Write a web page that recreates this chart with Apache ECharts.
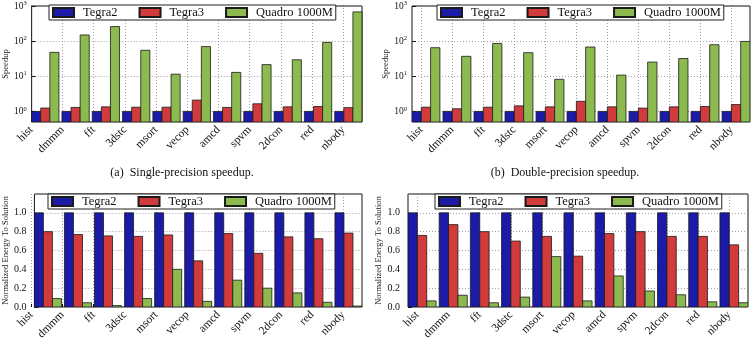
<!DOCTYPE html>
<html>
<head>
<meta charset="utf-8">
<script src="https://cdn.jsdelivr.net/npm/echarts@6/dist/echarts.min.js"></script>
<style>
  html, body { margin: 0; padding: 0; background: #fff; }
  #wrap { position: relative; width: 755px; height: 355px; }
  #axes, #bars { position: absolute; left: 0; top: 0; width: 755px; height: 355px; }
</style>
</head>
<body>
<div id="wrap">
  <div id="axes"></div>
  <div id="bars"></div>
</div>
<script>
// benchmarks on the x axis
const categories = ['hist', 'dmmm', 'fft', '3dstc', 'msort', 'vecop', 'amcd', 'spvm', '2dcon', 'red', 'nbody'];
const chips = ['Tegra2', 'Tegra3', 'Quadro 1000M'];
const chipColors = ['#1b1ba8', '#d23b3c', '#8cba4f'];

// (a) single-precision speedup (log scale)
const spSingleTegra2 = [1, 1, 1, 1, 1, 1, 1, 1, 1, 1, 1];
const spSingleTegra3 = [1.25, 1.3, 1.35, 1.32, 1.32, 2.1, 1.3, 1.65, 1.35, 1.38, 1.28];
const spSingleQuadro = [48, 150, 260, 55, 11.5, 70, 12.9, 21.5, 29.5, 92, 680];

// (b) double-precision speedup (log scale)
const spDoubleTegra2 = [1, 1, 1, 1, 1, 1, 1, 1, 1, 1, 1];
const spDoubleTegra3 = [1.32, 1.19, 1.32, 1.44, 1.35, 1.94, 1.35, 1.24, 1.35, 1.38, 1.57];
const spDoubleQuadro = [65, 37, 86, 47, 8.2, 68, 10.8, 25.4, 32, 79, 98];

// normalized energy to solution, single precision
const enSingleTegra2 = [1, 1, 1, 1, 1, 1, 1, 1, 1, 1, 1];
const enSingleTegra3 = [0.80, 0.77, 0.755, 0.75, 0.765, 0.49, 0.78, 0.57, 0.745, 0.725, 0.785];
const enSingleQuadro = [0.09, 0.045, 0.015, 0.09, 0.40, 0.06, 0.285, 0.20, 0.15, 0.05, 0.01];

// normalized energy to solution, double precision
const enDoubleTegra2 = [1, 1, 1, 1, 1, 1, 1, 1, 1, 1, 1];
const enDoubleTegra3 = [0.76, 0.875, 0.80, 0.70, 0.75, 0.54, 0.78, 0.80, 0.75, 0.75, 0.66];
const enDoubleQuadro = [0.065, 0.125, 0.045, 0.105, 0.535, 0.065, 0.33, 0.17, 0.13, 0.055, 0.045];

const captions = ['(a)  Single-precision speedup.', '(b)  Double-precision speedup.'];

const FONT = '"Liberation Serif", "DejaVu Serif", serif';
const BAR_W = 0.3;     // one bar = 0.3 x units, 3 bars per benchmark
const X_MAX = 10.9;
const LOG_MIN = 0.5;   // bottom of the speedup plots
const LOG_MAX = 1000;

const panels = [
  { box: [22, 5, 340, 117], log: true, name: 'Speedup', nameGap: 17, legendLeft: 49,
    data: [spSingleTegra2, spSingleTegra3, spSingleQuadro] },
  { box: [412, 5, 338, 117], log: true, name: 'Speedup', nameGap: 20, legendLeft: 437,
    data: [spDoubleTegra2, spDoubleTegra3, spDoubleQuadro] },
  { box: [22, 194, 340, 113], log: false, name: 'Normalized Energy To Solution', nameGap: 17, legendLeft: 48,
    data: [enSingleTegra2, enSingleTegra3, enSingleQuadro] },
  { box: [408, 194, 340, 113], log: false, name: 'Normalized Energy To Solution', nameGap: 19, legendLeft: 435,
    data: [enDoubleTegra2, enDoubleTegra3, enDoubleQuadro] }
];

// ---- bottom layer: benchmark labels + vertical dotted grid (ticks at i + 0.3)
const catGrid = [], catX = [], catY = [];
panels.forEach(function (p, n) {
  const [left, top, width, height] = p.box;
  const u = width / X_MAX;
  catGrid.push({ left: left + BAR_W * u, top: top, width: 10 * u, height: height, show: false });
  catX.push({
    gridIndex: n, type: 'category', data: categories, boundaryGap: false,
    axisLine: { show: false },
    axisTick: { inside: true, length: 3, lineStyle: { color: '#111' } },
    axisLabel: { rotate: 45, margin: 6, fontFamily: FONT, fontSize: 11.5, color: '#111', interval: 0 },
    splitLine: { show: true, lineStyle: { color: '#888', type: [1, 2], width: 0.8 } }
  });
  catY.push({ gridIndex: n, type: 'value', min: 0, max: 1, show: false });
});

const axesChart = echarts.init(document.getElementById('axes'));
axesChart.setOption({
  animation: false,
  backgroundColor: '#fff',
  grid: catGrid,
  xAxis: catX,
  yAxis: catY,
  series: []
});

// ---- top layer: frames, y axes, bars, legends, captions
const grid = [], xAxis = [], yAxis = [], series = [], legend = [];

panels.forEach(function (p, n) {
  const [left, top, width, height] = p.box;
  grid.push({ left: left, top: top, width: width, height: height, show: true,
    borderColor: '#111', borderWidth: 1, backgroundColor: 'transparent' });
  xAxis.push({ gridIndex: n, type: 'value', min: 0, max: X_MAX, show: false });

  const y = {
    gridIndex: n, type: 'value',
    name: p.name, nameLocation: 'middle', nameGap: p.nameGap,
    nameTextStyle: { fontFamily: FONT, fontSize: 8.5, color: '#222' },
    axisLine: { show: false },
    axisTick: { inside: true, length: 4, lineStyle: { color: '#111' } },
    splitLine: { show: true, lineStyle: { color: '#888', type: [1, 2], width: 0.8 } }
  };
  if (p.log) {
    // decades on a value axis (log10 of the speedup)
    Object.assign(y, {
      min: Math.log10(LOG_MIN), max: Math.log10(LOG_MAX), minInterval: 1, maxInterval: 1,
      axisLabel: {
        showMinLabel: false, margin: 5,
        formatter: function (v) { return '{b|10}{s|' + Math.round(v) + '}'; },
        rich: {
          b: { fontFamily: FONT, fontSize: 9.5, color: '#111' },
          s: { fontFamily: FONT, fontSize: 6.5, color: '#111', verticalAlign: 'top', padding: [0, 0, 5, 0] }
        }
      }
    });
  } else {
    Object.assign(y, {
      min: 0, max: 1.2, interval: 0.2,
      axisLabel: { showMaxLabel: false, margin: 8, fontFamily: FONT, fontSize: 10, color: '#111',
        formatter: function (v) { return Number(v).toFixed(1); } }
    });
  }
  yAxis.push(y);

  const base = p.log ? Math.log10(LOG_MIN) : 0;
  p.data.forEach(function (vals, k) {
    series.push({
      type: 'custom', name: chips[k], xAxisIndex: n, yAxisIndex: n, clip: true,
      itemStyle: { color: chipColors[k], borderColor: '#1a1a1a', borderWidth: 0.8 },
      encode: { x: 0, y: 1 },
      data: vals.map(function (v, i) { return [i, p.log ? Math.log10(v) : v]; }),
      renderItem: function (params, api) {
        const x0 = api.value(0) + k * BAR_W;
        const p0 = api.coord([x0, base]);
        const p1 = api.coord([x0 + BAR_W, api.value(1)]);
        return {
          type: 'rect',
          shape: { x: p0[0], y: p1[1], width: p1[0] - p0[0], height: p0[1] - p1[1] },
          style: api.style()
        };
      }
    });
  });

  legend.push({
    data: chips, left: p.legendLeft, top: top, icon: 'rect',
    itemWidth: 21, itemHeight: 9, itemGap: 21,
    padding: [1, 3, 1, 3],
    backgroundColor: '#fff', borderColor: '#222', borderWidth: 1,
    textStyle: { fontFamily: FONT, fontSize: 12.5, color: '#111', lineHeight: 12, padding: [0, 0, 0, 4] },
    selectedMode: false
  });
});

// sub-figure captions
const graphic = [
  { type: 'text', x: 182, y: 173, style: { text: captions[0], fontFamily: FONT, fontSize: 12,
    fill: '#111', align: 'center', verticalAlign: 'middle' } },
  { type: 'text', x: 565, y: 173, style: { text: captions[1], fontFamily: FONT, fontSize: 12,
    fill: '#111', align: 'center', verticalAlign: 'middle' } }
];

const barsChart = echarts.init(document.getElementById('bars'));
barsChart.setOption({
  animation: false,
  backgroundColor: 'transparent',
  grid: grid,
  xAxis: xAxis,
  yAxis: yAxis,
  legend: legend,
  graphic: graphic,
  series: series
});
</script>
</body>
</html>
